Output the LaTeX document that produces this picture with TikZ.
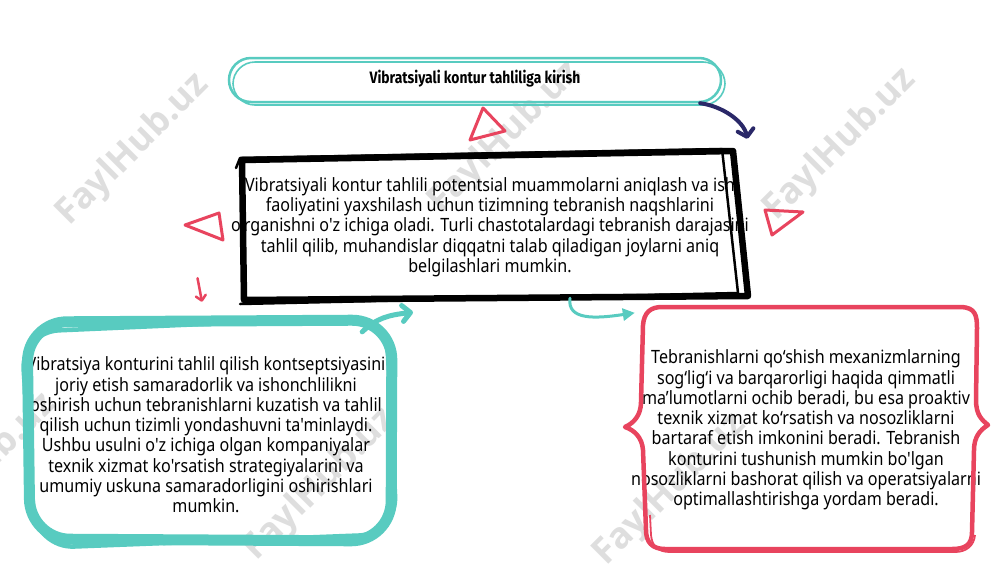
\documentclass[tikz,border=0pt]{standalone}
\usepackage{fontspec}
\usetikzlibrary{calc,arrows.meta}
\newfontfamily\bodyfont{Noto Sans}[FakeStretch=0.88]
\newfontfamily\titlefont{Fira Sans}[FakeStretch=0.84]
\newfontfamily\wmfont{Open Sans}
\definecolor{mapteal}{RGB}{88,203,192}
\definecolor{mapred}{RGB}{232,68,94}
\definecolor{mapnavy}{RGB}{42,40,104}
\tikzset{>=stealth,
  txtbox/.style={font=\bodyfont\fontsize{18.3}{20.3}\selectfont,
    align=center, inner sep=0pt},
  wmark/.style={text=black!13, font=\wmfont\bfseries\fontsize{36}{36}\selectfont,
    rotate=45},
  redtri/.style={mapred, line width=3pt, line join=round},
  ink/.style={black, line join=round, line cap=round}}

\begin{document}
\begin{tikzpicture}[x=1pt,y=-1pt]
\useasboundingbox[fill=white] (0,0) rectangle (1000,563);

% Watermarks
\node[wmark] (wm1) at (133,150) {FaylHub.uz};
\node[wmark] (wm2) at (505,138) {FaylHub.uz};
\node[wmark] (wm3) at (840,145) {FaylHub.uz};
\node[wmark] (wm4) at (-20,470) {FaylHub.uz};
\node[wmark] (wm5) at (320,485) {FaylHub.uz};
\node[wmark] (wm6) at (670,490) {FaylHub.uz};

% Title
\node[minimum width=494pt, minimum height=46pt, inner sep=0pt] (kirish) at (475,79)
  {\titlefont\bfseries\fontsize{16.5}{18}\selectfont Vibratsiyali kontur tahliliga kirish};
\draw[mapteal, line width=2.5pt, rounded corners=22pt] (229,58) rectangle (721,102);
\draw[mapteal, line width=1.6pt, rounded corners=22pt] (233,62) rectangle (725,105);

% Center box
\node[txtbox, minimum width=495pt, minimum height=145pt] (tahlil) at (490,227)
  {Vibratsiyali kontur tahlili potentsial muammolarni aniqlash va ish\\
   faoliyatini yaxshilash uchun tizimning tebranish naqshlarini\\
   o'rganishni o'z ichiga oladi. Turli chastotalardagi tebranish darajasini\\
   tahlil qilib, muhandislar diqqatni talab qiladigan joylarni aniq\\
   belgilashlari mumkin.};
\draw[ink, line width=6.5pt] (242,160) -- (733,151) -- (748,296) -- (244,300) -- cycle;
\draw[ink, line width=2.5pt] (236,168) -- (240,158) -- (722,149) -- (738,293) -- (240,304);

% Left box
\node[txtbox, minimum width=370pt, minimum height=224pt] (joriy) at (206,435)
  {Vibratsiya konturini tahlil qilish kontseptsiyasini\\
   joriy etish samaradorlik va ishonchlilikni\\
   oshirish uchun tebranishlarni kuzatish va tahlil\\
   qilish uchun tizimli yondashuvni ta'minlaydi.\\
   Ushbu usulni o'z ichiga olgan kompaniyalar\\
   texnik xizmat ko'rsatish strategiyalarini va\\
   umumiy uskuna samaradorligini oshirishlari\\
   mumkin.};
\draw[mapteal, line width=11pt, rounded corners=40pt]
  (27,322) -- (392,320) -- (391,541) -- (30,539) -- cycle;
\draw[mapteal, line width=4.5pt, rounded corners=38pt]
  (21,332) -- (386,316) -- (397,534) -- (36,548) -- cycle;

% Right box
\node[txtbox, minimum width=350pt, minimum height=242pt] (tebranish) at (806,430)
  {Tebranishlarni qo‘shish mexanizmlarning\\
   sog‘lig‘i va barqarorligi haqida qimmatli\\
   ma’lumotlarni ochib beradi, bu esa proaktiv\\
   texnik xizmat ko‘rsatish va nosozliklarni\\
   bartaraf etish imkonini beradi. Tebranish\\
   konturini tushunish mumkin bo'lgan\\
   nosozliklarni bashorat qilish va operatsiyalarni\\
   optimallashtirishga yordam beradi.};
\draw[mapred, line width=4.5pt, line join=round]
  (662,307) -- (962,307) .. controls (975,308) and (977,315) .. (977,328)
  -- (976,400) .. controls (976,415) and (982,420) .. (988,425)
  .. controls (980,430) and (974,437) .. (974,450)
  -- (972,532) .. controls (972,545) and (965,549) .. (952,549)
  -- (665,549) .. controls (652,549) and (646,542) .. (646,530)
  -- (643,450) .. controls (642,437) and (634,430) .. (625,427)
  .. controls (634,423) and (641,415) .. (641,402)
  -- (643,325) .. controls (644,313) and (650,307) .. (662,307) -- cycle;
\draw[mapred, line width=1.8pt]
  (650,515) -- (651,535) .. controls (652,546) and (658,552) .. (670,552)
  -- (955,552) .. controls (966,552) and (974,546) .. (975,535);

% Triangles
\draw[redtri] (483,108) -- (470,140) -- (505,131) -- cycle;
\draw[redtri] (185,225) -- (219,213) -- (223,240) -- cycle;
\draw[redtri] (765,210) -- (803,212) -- (772,235) -- cycle;

% Connectors
\draw[mapnavy, line width=4pt, line cap=round,
  -{Straight Barb[length=7pt,width=16pt,round]}]
  ($(kirish.south east)+(-22,1)$) .. controls +(22,3) and +(-4,-18) ..
  ($(tahlil.north east)+(-1.5,-15.5)$);
\draw[mapteal, line width=5pt, line cap=round,
  -{Straight Barb[length=8pt,width=16pt,round]}]
  ($(joriy.north east)+(-29,9)$) .. controls +(15,-14) and +(-25,3) ..
  ($(tahlil.south)+(-77,12.5)$);
\draw[mapteal, line width=3pt, line cap=round,
  -{Triangle[length=12pt,width=12pt]}]
  ($(tahlil.south)+(80,-1.5)$) .. controls +(-3,22) and +(-40,6) ..
  ($(tebranish.north west)+(4,4)$);
\draw[mapred, line width=2.5pt, line cap=round,
  -{Straight Barb[length=5pt,width=10pt,round]}]
  ($(tahlil.south west)+(-33.5,-21.5)$) -- ($(joriy.north)+(-4,-21)$);

\end{tikzpicture}
\end{document}
